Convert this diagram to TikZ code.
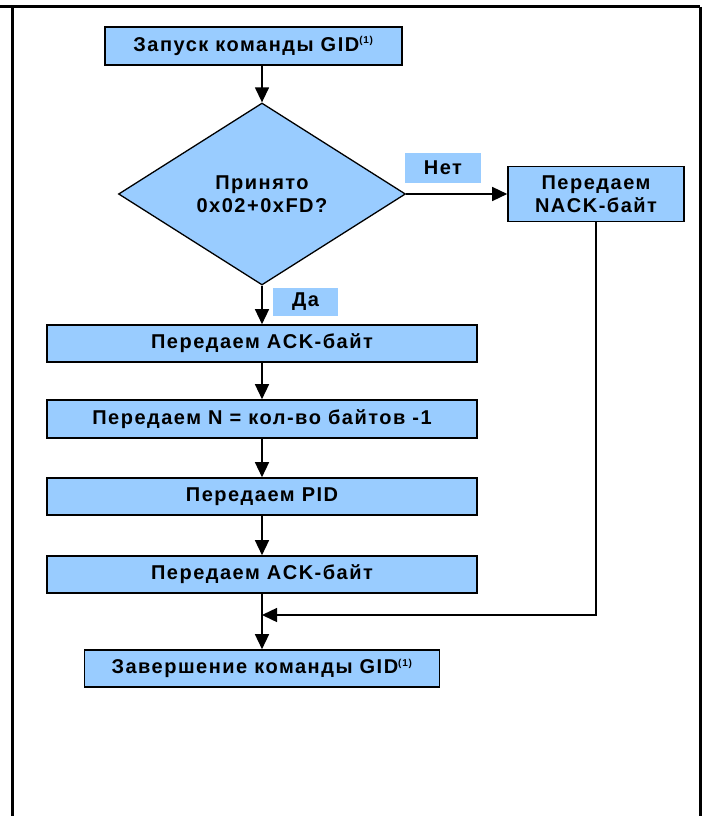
\documentclass[tikz,border=0pt]{standalone}
\usepackage{fontspec}
\setmainfont{Liberation Sans}[LetterSpace=7.5]
\usetikzlibrary{shapes.geometric,arrows.meta}
\definecolor{boxblue}{HTML}{99CCFF}
\begin{document}
\begin{tikzpicture}[x=1pt,y=-1pt,
  font=\bfseries\fontsize{20}{23}\selectfont,
  box/.style={draw, fill=boxblue, line width=1.6pt, inner sep=0pt, align=center},
  dec/.style={diamond, draw, fill=boxblue, line width=1.3pt, inner sep=0pt, align=center},
  lbl/.style={fill=boxblue, inner sep=0pt},
  arr/.style={line width=1.4pt, -{Triangle[length=15pt,width=14pt]}},
  ln/.style={line width=1.4pt},
  frame/.style={line width=3pt}]
\useasboundingbox (0,0) rectangle (709,816);
% frame
\coordinate (ftl) at (12,7);
\coordinate (ftr) at (700,7);
\coordinate (fbl) at (12,816);
\coordinate (fbr) at (700,816);
\coordinate (f0) at (0,7);
\draw[frame] (f0) -- (ftr);
\draw[frame] (ftl) -- (fbl);
\draw[frame] (ftr) -- (fbr);
% nodes
\node[box, minimum width=297pt, minimum height=38pt] (start) at (253.5,46) {Запуск команды GID\textsuperscript{\fontsize{10}{10}\selectfont(1)}};
\node[dec, minimum width=287pt, minimum height=182pt] (dec) at (262,194) {Принято\\0x02+0xFD?};
\node[box, minimum width=176pt, minimum height=55pt] (nack) at (596,194) {Передаем\\NACK-байт};
\node[lbl, minimum width=76pt, minimum height=30pt] (no) at (443,168) {Нет};
\node[lbl, minimum width=65pt, minimum height=28pt] (yes) at (305.5,302) {Да};
\node[box, minimum width=430pt, minimum height=37pt] (ack1) at (262,343.5) {Передаем ACK-байт};
\node[box, minimum width=430pt, minimum height=38pt] (cnt) at (262,419) {Передаем N = кол-во байтов -1};
\node[box, minimum width=430pt, minimum height=37pt] (pid) at (262,496.5) {Передаем PID};
\node[box, minimum width=430pt, minimum height=37pt] (ack2) at (262,574.5) {Передаем ACK-байт};
\node[box, minimum width=355pt, minimum height=37pt] (fin) at (262,668.5) {Завершение команды GID\textsuperscript{\fontsize{10}{10}\selectfont(1)}};
\coordinate (join) at (262,615);
\coordinate (nackturn) at (nack.south |- join);
% connectors
\draw[arr] (start.south -| dec.north) -- (dec.north);
\draw[arr] (dec.east) -- (nack.west);
\draw[arr] (dec.south) -- (ack1.north -| dec.south);
\draw[arr] (ack1) -- (cnt);
\draw[arr] (cnt) -- (pid);
\draw[arr] (pid) -- (ack2);
\draw[ln] (ack2.south) -- (join);
\draw[arr] (join) -- (fin.north);
\draw[arr] (nack.south) -- (nackturn) -- (join);
\end{tikzpicture}
\end{document}
